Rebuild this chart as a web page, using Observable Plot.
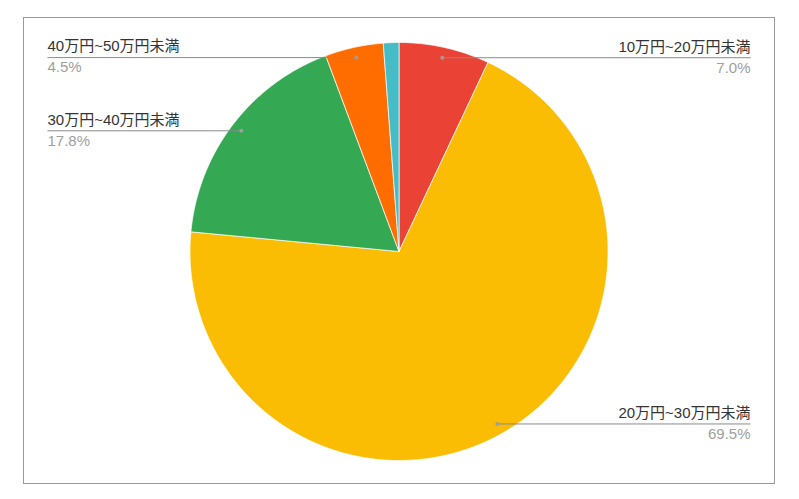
<!DOCTYPE html>
<html><head><meta charset="utf-8">
<script src="https://cdn.jsdelivr.net/npm/d3@7"></script>
<script src="https://cdn.jsdelivr.net/npm/@observablehq/plot@0.6"></script>
<style>body{margin:0;background:#fff}</style>
</head><body><div id="chart"></div>
<script>
const categories = ["10万円~20万円未満", "20万円~30万円未満", "30万円~40万円未満", "40万円~50万円未満", "50万円以上"];
const values = [7.0, 69.5, 17.8, 4.5, 1.2];
const colors = ["#ea4335", "#fbbc04", "#34a853", "#ff6d01", "#46bdc6"];
const labeled = [true, true, true, true, false];

const total = d3.sum(values);
let acc = 0;
const slices = categories.map((c, i) => {
  const a0 = acc / total * 2 * Math.PI;
  acc += values[i];
  const a1 = acc / total * 2 * Math.PI;
  return {cat: c, value: values[i], a0, a1, mid: (a0 + a1) / 2, labeled: labeled[i]};
});
// slice outlines (geometry only) in unit-radius data space
const polys = [];
for (const s of slices) {
  polys.push({cat: s.cat, x: 0, y: 0});
  const n = Math.max(2, Math.ceil((s.a1 - s.a0) / (Math.PI / 360)));
  for (let k = 0; k <= n; k++) {
    const a = s.a0 + (s.a1 - s.a0) * k / n;
    polys.push({cat: s.cat, x: Math.sin(a), y: Math.cos(a)});
  }
  polys.push({cat: s.cat, x: 0, y: 0});
}
const labelR = 0.95, labelX = 1.682;
const labels = slices.filter(s => s.labeled).map(s => {
  const x = labelR * Math.sin(s.mid), y = labelR * Math.cos(s.mid);
  const side = x >= 0 ? 1 : -1;
  return {...s, x, y, lx: side * labelX, side, pct: s.value.toFixed(1) + "%"};
});
const rightL = labels.filter(d => d.side > 0);
const leftL = labels.filter(d => d.side < 0);

const W = 799, H = 499, cx = 398.5, cy = 251, R = 209;
const font = "'Liberation Sans', Arial, 'Noto Sans CJK JP', sans-serif";
const chart = Plot.plot({
  width: W, height: H,
  marginLeft: 23, marginRight: 25, marginTop: 17, marginBottom: 16,
  x: {domain: [-1, 1], range: [cx - R, cx + R], axis: null},
  y: {domain: [-1, 1], range: [cy + R, cy - R], axis: null},
  color: {domain: categories, range: colors},
  style: {fontFamily: font, background: "#fff", overflow: "visible"},
  marks: [
    Plot.frame({stroke: "#9a9a9a", strokeWidth: 1}),
    Plot.line(polys, {x: "x", y: "y", z: "cat", fill: "cat", stroke: "#fff", strokeWidth: 0.7, strokeLinejoin: "round"}),
    Plot.link(labels, {x1: "x", y1: "y", x2: "lx", y2: "y", stroke: "#8a8a8a", strokeWidth: 1}),
    Plot.dot(labels, {x: "x", y: "y", r: 2, fill: "#9e9e9e", stroke: null}),
    Plot.text(rightL, {x: "lx", y: "y", text: "cat", textAnchor: "end", dy: -11, fontSize: 15, fill: "#333"}),
    Plot.text(rightL, {x: "lx", y: "y", text: "pct", textAnchor: "end", dy: 10, fontSize: 15, fill: "#9e9e9e"}),
    Plot.text(leftL, {x: "lx", y: "y", text: "cat", textAnchor: "start", dy: -11, fontSize: 15, fill: "#333"}),
    Plot.text(leftL, {x: "lx", y: "y", text: "pct", textAnchor: "start", dy: 10, fontSize: 15, fill: "#9e9e9e"})
  ]
});
document.getElementById("chart").appendChild(chart);
</script>
</body></html>
